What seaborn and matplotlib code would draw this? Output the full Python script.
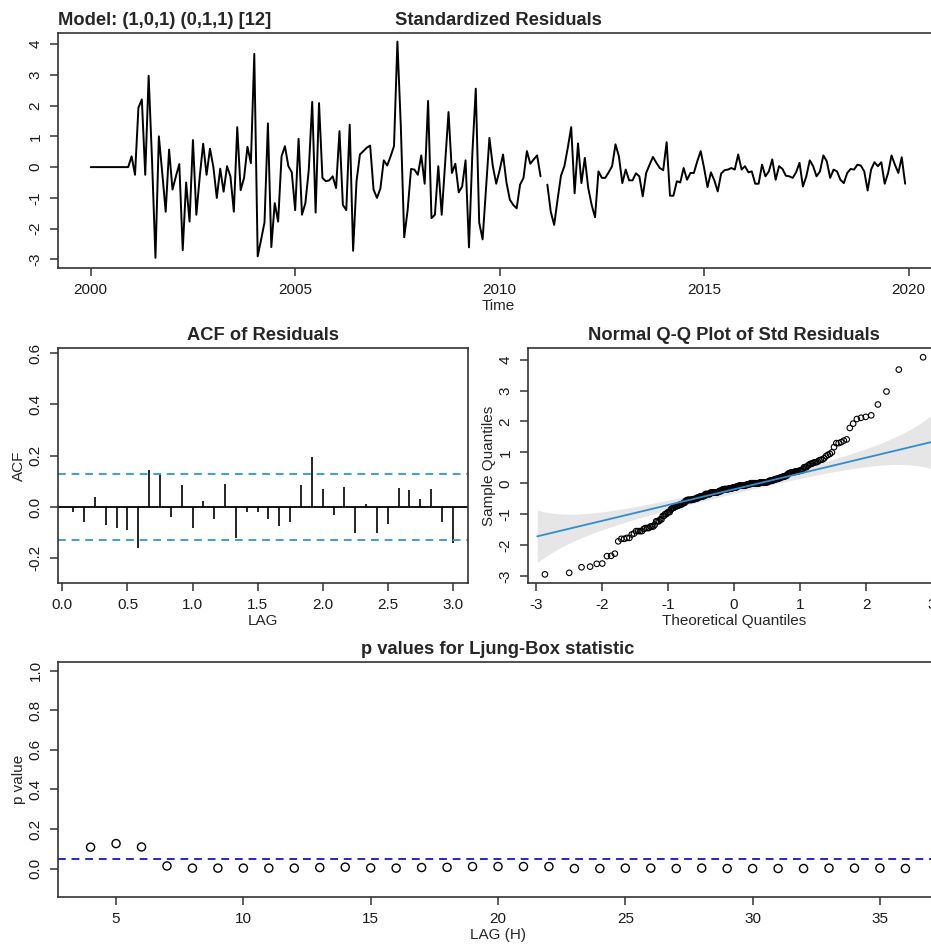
import numpy as np
import pandas as pd
import matplotlib
matplotlib.use("Agg")
import matplotlib.pyplot as plt
import seaborn as sns
from statistics import NormalDist

# standardized residuals, monthly from Jan 2000 (nan = missing month)
resid = [
    0, 0, 0, 0, 0, 0, 0, 0, 0, 0, 0, 0,
    0.35, -0.25, 1.93, 2.2, -0.25, 2.97, 0.2, -2.95, 1.0, -0.2, -1.45, 0.57,
    -0.73, -0.3, 0.1, -2.7, -0.5, -1.77, 0.88, -1.55, -0.3, 0.76, -0.25, 0.6,
    0.0, -1.0, -0.05, -0.8, 0.03, -0.3, -1.45, 1.3, -0.75, -0.35, 0.66, 0.13,
    3.68, -2.9, -2.36, -1.8, 1.42, -2.6, -1.17, -1.77, 0.35, 0.68, 0.03, -0.17,
    -1.4, 0.92, -1.55, -1.17, -0.08, 2.12, -1.48, 2.08, -0.35, -0.46, -0.43, -0.3,
    -0.68, 1.17, -1.23, -1.4, 1.38, -2.72, -0.46, 0.41, 0.52, 0.63, 0.7, -0.73,
    -1.0, -0.7, 0.22, 0.05, 0.35, 0.68, 4.08, 1.33, -2.28, -1.4, -0.06, -0.08,
    -0.25, 0.38, -0.54, 2.15, -1.66, -1.55, 0.03, -1.55, 0.14, 1.79, -0.19, 0.11,
    -0.82, -0.63, 0.22, -2.61, 0.46, 2.55, -1.8, -2.35, -0.7, 0.95, 0.03, -0.54,
    -0.1, 0.41, -0.5, -1.06, -1.23, -1.34, -0.57, -0.35, 0.52, 0.11, 0.25, 0.38,
    -0.3, np.nan, -0.57, -1.45, -1.88, -1.06, -0.28, 0.03, 0.63, 1.3, -0.85, 0.77,
    -0.52, 0.3, -0.68, -1.23, -1.63, -0.14, -0.35, -0.35, -0.17, 0.03, 0.74, 0.35,
    -0.52, -0.08, -0.43, -0.43, -0.2, -0.3, -0.95, -0.19, 0.08, 0.33, 0.14, -0.03,
    -0.1, 0.81, -0.93, -0.93, -0.46, -0.5, -0.03, -0.41, -0.19, -0.19, 0.19, 0.52,
    -0.03, -0.65, -0.17, -0.43, -0.79, -0.21, -0.1, -0.08, -0.03, -0.08, 0.41, -0.08,
    0.03, -0.17, -0.14, -0.54, -0.54, 0.08, -0.3, -0.14, 0.25, -0.41, 0.03, -0.06,
    -0.28, -0.3, -0.35, -0.17, 0.14, -0.63, -0.3, 0.22, 0.03, -0.3, -0.14, 0.38,
    0.19, -0.35, -0.08, -0.14, -0.41, -0.52, -0.19, -0.06, -0.08, 0.08, 0.05, -0.14,
    -0.76, -0.08, 0.16, 0.03, 0.16, -0.54, -0.19, 0.38, 0.08, -0.19, 0.32, -0.54,
]
start_year = 2000

# ACF of residuals, lags 1..36 months (in years)
acf_lags = np.arange(1, 37) / 12
acf_vals = [
    -0.02, -0.06, 0.04, -0.07, -0.08, -0.09, -0.16, 0.145, 0.13, -0.04, 0.085, -0.08,
    0.025, -0.045, 0.09, -0.12, -0.02, -0.02, -0.045, -0.075, -0.06, 0.085, 0.195, 0.07,
    -0.03, 0.08, -0.1, 0.01, -0.1, -0.065, 0.075, 0.065, 0.03, 0.07, -0.06, -0.14,
]
acf_ci = 0.128

# Ljung-Box p values
lb_lags = list(range(4, 37))
lb_pvals = [
    0.108, 0.126, 0.109, 0.013, 0.002, 0.002, 0.002, 0.002, 0.002, 0.005, 0.007,
    0.003, 0.002, 0.005, 0.006, 0.01, 0.01, 0.01, 0.01, 0.0, 0.0, 0.002, 0.002,
    0.0, 0.002, 0.0, 0.0, 0.0, 0.0, 0.002, 0.002, 0.002, 0.0,
]

sns.set_style("ticks")
plt.rcParams["font.family"] = ["Liberation Sans", "DejaVu Sans"]
plt.rcParams["axes.edgecolor"] = "#333333"
plt.rcParams["axes.linewidth"] = 1.2
plt.rcParams["axes.unicode_minus"] = False

TICK = 11
TITLE = 13.2

fig = plt.figure(figsize=(9.31, 9.46), dpi=100)
W, H = 931, 946


def box(l, t, r, b):
    return fig.add_axes([l / W, 1 - b / H, (r - l) / W, (b - t) / H])


def style(ax):
    ax.tick_params(axis="both", labelsize=TICK, length=6, width=1.1,
                   color="#333333", labelcolor="#1a1a1a", pad=5)
    ax.tick_params(axis="y", labelrotation=90)
    for t in ax.get_yticklabels():
        t.set_va("center")
    for s in ax.spines.values():
        s.set_visible(True)


# ---- standardized residuals
ax1 = box(58, 33, 938, 268)
ts = pd.DataFrame({"time": start_year + np.arange(len(resid)) / 12, "resid": resid})
ts["seg"] = ts["resid"].isna().cumsum()
ts = ts.dropna()
sns.lineplot(data=ts, x="time", y="resid", units="seg", estimator=None,
             color="black", lw=1.4, ax=ax1)
ax1.set_xlim(1999.2, 2020.72)
ax1.set_ylim(-3.28, 4.36)
ax1.set_xticks(range(2000, 2021, 5))
ax1.set_yticks(range(-3, 5))
ax1.set_xlabel("Time", fontsize=TICK, labelpad=1)
ax1.set_ylabel("")
ax1.set_title("Standardized Residuals", fontsize=TITLE, fontweight="bold", pad=6)
ax1.set_title("Model: (1,0,1) (0,1,1) [12]", fontsize=TITLE, fontweight="bold",
              loc="left", pad=6)
style(ax1)

# ---- ACF
ax2 = box(58, 348, 468, 583)
ax2.vlines(acf_lags, 0, acf_vals, color="black", lw=1.2)
ax2.axhline(0, color="black", lw=1.3)
for c in (acf_ci, -acf_ci):
    ax2.axhline(c, color="#3d9ede", lw=1.4, ls=(0, (4, 3)))
ax2.set_xlim(-0.034, 3.117)
ax2.set_ylim(-0.296, 0.62)
ax2.set_xticks(np.arange(0, 3.01, 0.5))
ax2.set_xticklabels([f"{v:.1f}" for v in np.arange(0, 3.01, 0.5)])
ax2.set_yticks([-0.2, 0.0, 0.2, 0.4, 0.6])
ax2.set_yticklabels(["-0.2", "0.0", "0.2", "0.4", "0.6"])
ax2.set_xlabel("LAG", fontsize=TICK, labelpad=1)
ax2.set_ylabel("ACF", fontsize=TICK, labelpad=2)
ax2.set_title("ACF of Residuals", fontsize=TITLE, fontweight="bold", pad=6)
style(ax2)

# ---- Normal Q-Q
ax3 = box(528, 348, 940, 583)
r = np.sort(np.array([v for v in resid if not np.isnan(v)]))
n = len(r)
nd = NormalDist()
pp = (np.arange(1, n + 1) - 0.5) / n
z = np.array([nd.inv_cdf(p) for p in pp])
q1, q3 = np.percentile(r, [25, 75])
b = (q3 - q1) / (nd.inv_cdf(0.75) - nd.inv_cdf(0.25))
a = q1 - b * nd.inv_cdf(0.25)
zg = np.linspace(-2.98, 3.2, 200)
pg = np.array([nd.cdf(v) for v in zg])
se = b / np.array([nd.pdf(v) for v in zg]) * np.sqrt(pg * (1 - pg) / n)
fit = a + b * zg
ax3.fill_between(zg, fit - 3.2 * se, fit + 3.2 * se, color="#e6e6e6", lw=0)
sns.lineplot(x=zg, y=fit, color="#2e8fd0", lw=1.3, ax=ax3)
ax3.scatter(z, r, s=16, facecolors="none", edgecolors="black", linewidths=0.8)
ax3.set_xlim(-3.12, 3.12)
ax3.set_ylim(-3.23, 4.38)
ax3.set_xticks(range(-3, 4))
ax3.set_yticks(range(-3, 5))
ax3.set_xlabel("Theoretical Quantiles", fontsize=TICK, labelpad=1)
ax3.set_ylabel("Sample Quantiles", fontsize=TICK, labelpad=2)
ax3.set_title("Normal Q-Q Plot of Std Residuals", fontsize=TITLE,
              fontweight="bold", pad=6)
style(ax3)

# ---- Ljung-Box
ax4 = box(58, 662, 938, 897)
ax4.scatter(lb_lags, lb_pvals, s=34, facecolors="none", edgecolors="black",
            linewidths=1.0)
ax4.axhline(0.05, color="#2424d6", lw=1.4, ls=(0, (4, 3)))
ax4.set_xlim(2.72, 37.28)
ax4.set_ylim(-0.144, 1.044)
ax4.set_xticks(range(5, 36, 5))
ax4.set_yticks([0.0, 0.2, 0.4, 0.6, 0.8, 1.0])
ax4.set_yticklabels(["0.0", "0.2", "0.4", "0.6", "0.8", "1.0"])
ax4.set_xlabel("LAG (H)", fontsize=TICK, labelpad=1)
ax4.set_ylabel("p value", fontsize=TICK, labelpad=2)
ax4.set_title("p values for Ljung-Box statistic", fontsize=TITLE,
              fontweight="bold", pad=6)
style(ax4)

fig.savefig("out.png", dpi=100)
